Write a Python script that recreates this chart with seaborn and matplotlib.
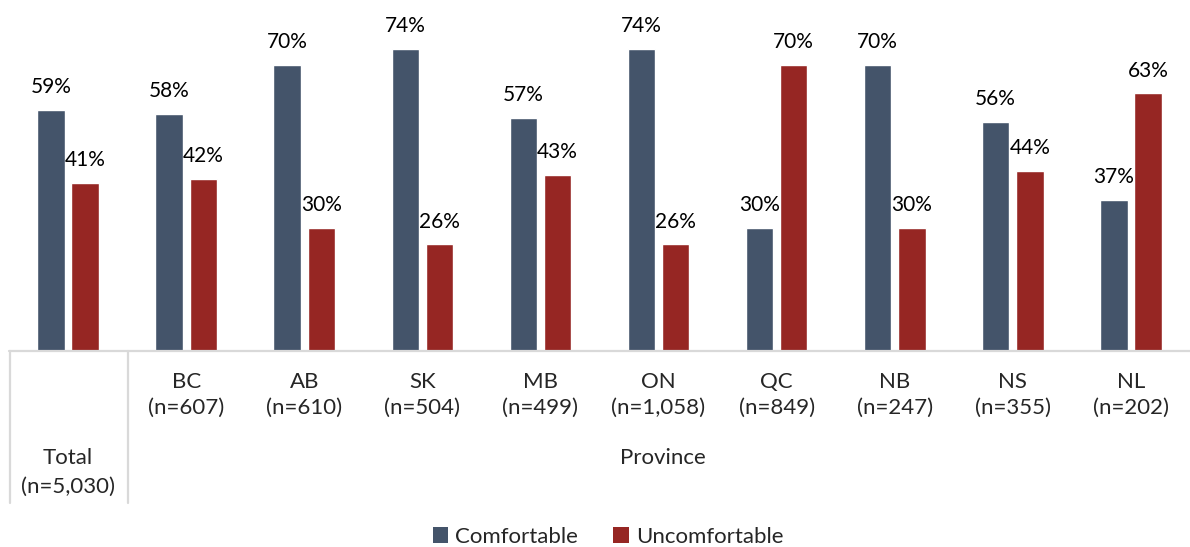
import matplotlib
matplotlib.use("Agg")
import matplotlib.pyplot as plt
from matplotlib.lines import Line2D
import seaborn as sns
import pandas as pd

# Survey results by region
groups = ["Total", "BC", "AB", "SK", "MB", "ON", "QC", "NB", "NS", "NL"]
sample_sizes = ["5,030", "607", "610", "504", "499", "1,058", "849", "247", "355", "202"]
comfortable = [59, 58, 70, 74, 57, 74, 30, 70, 56, 37]
uncomfortable = [41, 42, 30, 26, 43, 26, 70, 30, 44, 63]
series_names = ["Comfortable", "Uncomfortable"]
colors = ["#44546A", "#962623"]

df = pd.DataFrame({
    "group": groups * 2,
    "series": [series_names[0]] * len(groups) + [series_names[1]] * len(groups),
    "value": comfortable + uncomfortable,
})

sns.set_theme(style="white")
plt.rcParams["font.family"] = ["Lato", "DejaVu Sans"]

W, H = 1190, 547
fig = plt.figure(figsize=(W / 100, H / 100), dpi=100)

base_px = 350.5
px_per_pct = 4.08
ymax = 80
ax_left, ax_right = 9, 1190
ax = fig.add_axes([ax_left / W, (H - base_px) / H, (ax_right - ax_left) / W,
                   ymax * px_per_pct / H])

sns.barplot(data=df, x="group", y="value", hue="series", order=groups,
            hue_order=series_names, palette=colors, width=0.58, gap=0.2,
            saturation=1, ax=ax, legend=False)

ax.set_xlim(-0.5, len(groups) - 0.5)
ax.set_ylim(0, ymax)
ax.axis("off")

# value labels above each bar
for container in ax.containers:
    for bar in container:
        h = bar.get_height()
        ax.text(bar.get_x() + bar.get_width() / 2, h + 5.6, f"{h:.0f}%",
                ha="center", va="center", fontsize=15, color="#000000")

line_color = "#D9D9D9"
label_size = 16

def fy(py):
    return (H - py) / H

def fx(px):
    return px / W

# category axis grid lines
fig.add_artist(Line2D([fx(ax_left), fx(ax_right)], [fy(351), fy(351)],
                      color=line_color, lw=1.6))
for px in (9.5, 128):
    fig.add_artist(Line2D([fx(px), fx(px)], [fy(351), fy(503)],
                          color=line_color, lw=1.6))

# category labels
slot = (ax_right - ax_left) / len(groups)
for i, (g, n) in enumerate(zip(groups, sample_sizes)):
    cx = ax_left + slot * (i + 0.5)
    if i == 0:
        y1, y2 = 458, 487
    else:
        y1, y2 = 382, 408
    fig.text(fx(cx), fy(y1), g, ha="center", va="center", fontsize=label_size)
    fig.text(fx(cx), fy(y2), f"(n={n})", ha="center", va="center",
             fontsize=label_size)

fig.text(fx((128 + 1190) / 2 + 4), fy(458), "Province", ha="center", va="center",
         fontsize=label_size)

# legend
handles = [plt.Rectangle((0, 0), 1, 1, facecolor=c, edgecolor="none") for c in colors]
fig.legend(handles, series_names, loc="center", bbox_to_anchor=(fx(608), fy(537)),
           ncol=2, frameon=False, fontsize=label_size, handlelength=0.7,
           handleheight=0.7, handletextpad=0.3, columnspacing=1.6)

fig.savefig("out.png", dpi=100)
